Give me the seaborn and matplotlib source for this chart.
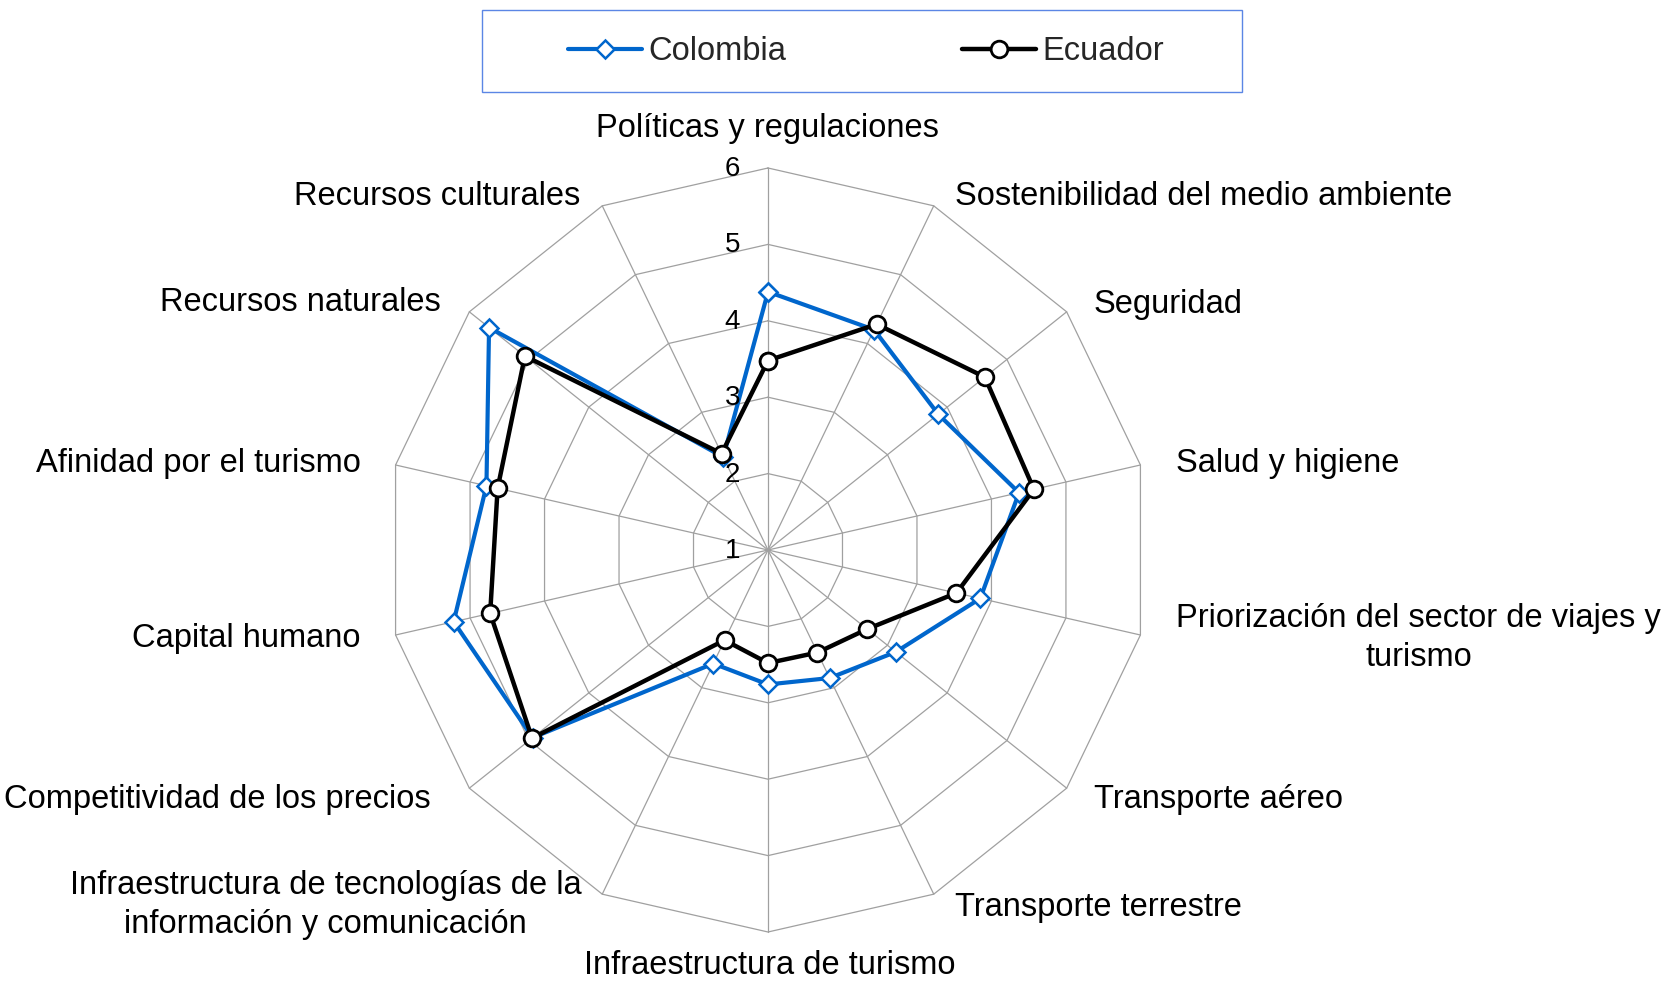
import numpy as np
import pandas as pd
import matplotlib
matplotlib.use("Agg")
import matplotlib.pyplot as plt
from matplotlib.patches import Rectangle
import seaborn as sns

# ============================================
# Data
# ============================================

categories = [
    "Políticas y regulaciones",
    "Sostenibilidad del medio ambiente",
    "Seguridad",
    "Salud y higiene",
    "Priorización del sector de viajes y\nturismo",
    "Transporte aéreo",
    "Transporte terrestre",
    "Infraestructura de turismo",
    "Infraestructura de tecnologías de la\ninformación y comunicación",
    "Competitividad de los precios",
    "Capital humano",
    "Afinidad por el turismo",
    "Recursos naturales",
    "Recursos culturales",
]

colombia = [4.38, 4.20, 3.85, 4.37, 3.85, 3.14, 2.86, 2.76, 2.65, 4.94, 5.22, 4.78, 5.67, 2.35]
ecuador = [3.48, 4.28, 4.63, 4.57, 3.53, 2.66, 2.49, 2.48, 2.31, 4.95, 4.73, 4.63, 5.07, 2.40]

ring_values = [2, 3, 4, 5, 6]
tick_labels = ["1", "2", "3", "4", "5", "6"]

# ============================================
# Style
# ============================================

sns.set_style("white")
plt.rcParams["font.family"] = ["Liberation Sans", "DejaVu Sans"]

n = len(categories)
theta = np.linspace(0, 2 * np.pi, n, endpoint=False)
theta_closed = np.append(theta, 2 * np.pi)

df = pd.DataFrame({
    "theta": np.concatenate([theta_closed, theta_closed]),
    "value": colombia + colombia[:1] + ecuador + ecuador[:1],
    "country": ["Colombia"] * (n + 1) + ["Ecuador"] * (n + 1),
})

fig = plt.figure(figsize=(16.62, 9.81), dpi=100)

# centre of the web at (768, 550) px, radius 382 px
ax = fig.add_axes([386 / 1662, 49 / 981, 764 / 1662, 764 / 981], projection="polar")
ax.set_theta_zero_location("N")
ax.set_theta_direction(-1)
ax.set_ylim(1, 6)
ax.grid(False)
ax.set_xticks([])
ax.set_yticks([])
ax.spines["polar"].set_visible(False)
ax.patch.set_alpha(0)

grid_color = "#A0A0A0"

# polygon rings
for rv in ring_values:
    ax.plot(theta_closed, [rv] * (n + 1), color=grid_color, lw=0.9, zorder=0, clip_on=False)

# spokes
for t in theta:
    ax.plot([t, t], [1, 6], color=grid_color, lw=0.9, zorder=0, clip_on=False)

# series
sns.lineplot(
    data=df[df["country"] == "Colombia"],
    x="theta", y="value",
    sort=False, estimator=None, legend=False,
    color="#0066CC", lw=3.0,
    marker="D", markersize=9.5,
    markerfacecolor="white", markeredgecolor="#0066CC", markeredgewidth=1.8,
    ax=ax, zorder=3, clip_on=False,
)
sns.lineplot(
    data=df[df["country"] == "Ecuador"],
    x="theta", y="value",
    sort=False, estimator=None, legend=False,
    color="black", lw=3.2,
    marker="o", markersize=12,
    markerfacecolor="white", markeredgecolor="black", markeredgewidth=2.0,
    ax=ax, zorder=4, clip_on=False,
)
ax.set_xlabel("")
ax.set_ylabel("")

# radial tick labels
for i, lab in enumerate(tick_labels):
    ax.annotate(lab, xy=(0, i + 1), xytext=(-28, -1), textcoords="offset pixels",
                ha="right", va="center", fontsize=20, color="black")

# category labels (pixel offsets from outer vertex)
label_offsets = [
    (-1, 39, "center"),
    (21, 9, "left"),
    (27, 7, "left"),
    (36, 1, "left"),
    (36, -3, "left"),
    (27, -11, "left"),
    (21, -13, "left"),
    (2, -33, "center"),
    (-21, -11, "right"),
    (-39, -11, "right"),
    (-35, -3, "right"),
    (-35, 1, "right"),
    (-29, 9, "right"),
    (-22, 9, "right"),
]
for t, lab, (dx, dy, ha) in zip(theta, categories, label_offsets):
    ax.annotate(lab, xy=(t, 6), xytext=(dx, dy), textcoords="offset pixels",
                ha=ha, va="center", multialignment="center", linespacing=1.35,
                fontsize=23.5, color="black", annotation_clip=False)

# legend
handles = ax.lines[-2:]
fig.legend(handles, ["Colombia", "Ecuador"],
           loc="center", bbox_to_anchor=(866 / 1662, 1 - 52 / 981),
           ncol=2, frameon=False, fontsize=23.5,
           handlelength=2.25, handletextpad=0.2, columnspacing=5.4)
fig.add_artist(Rectangle((482 / 1662, 1 - 92 / 981), 760 / 1662, 82 / 981,
                         transform=fig.transFigure, fill=False,
                         edgecolor="#5B86E5", lw=1.0))

fig.savefig("out.png", dpi=100)
